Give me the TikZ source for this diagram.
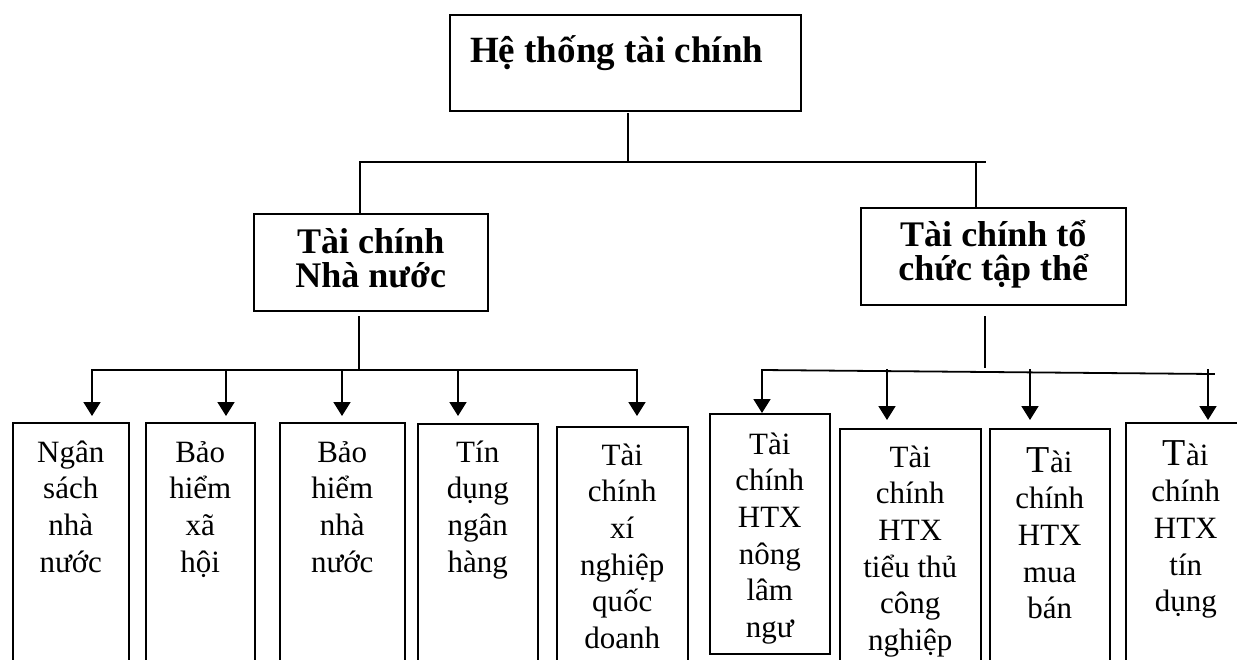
\documentclass[tikz,border=0pt]{standalone}
\usepackage{fontspec}
\setmainfont{Liberation Serif}
\usetikzlibrary{arrows.meta}
\newcommand\fstrut[1]{\rule{0pt}{#1pt}}
\newcommand\bigT{{\fontsize{38}{38}\selectfont T}}
\begin{document}
\begin{tikzpicture}[x=1pt,y=-1pt,
  box/.style={draw, line width=1.5pt, rectangle, inner sep=0pt, anchor=north west},
  conn/.style={line width=1.8pt, line cap=rect},
  arr/.style={line width=1.8pt, -{Triangle[width=17pt,length=14pt]}},
  head/.style={font=\bfseries\fontsize{36}{34}\selectfont, align=center, inner sep=0pt, anchor=north},
  leaf/.style={font=\fontsize{31}{36.6}\selectfont, align=center, inner sep=0pt, anchor=north}]
\useasboundingbox (0,0) rectangle (1237,659);
\clip (0,0) rectangle (1237,659);

% top
\node[box, minimum width=351pt, minimum height=96pt] (sys) at (449,14) {};
\node[anchor=base west, inner sep=0pt, font=\bfseries\fontsize{37}{40}\selectfont] (systext) at (470,62) {Hệ thống tài chính};

% middle
\node[box, minimum width=234pt, minimum height=97pt] (ml) at (253,213) {};
\node[head] (mltext) at (ml.north) {\fstrut{40}Tài chính\\Nhà nước};
\node[box, minimum width=265pt, minimum height=97pt] (mr) at (860,207) {};
\node[head] (mrtext) at (mr.north) {\fstrut{39}Tài chính tổ\\chức tập thể};

% leaves
\node[box, minimum width=116pt, minimum height=300pt] (b1) at (12,422) {};
\node[box, minimum width=109pt, minimum height=300pt] (b2) at (145,422) {};
\node[box, minimum width=125pt, minimum height=300pt] (b3) at (279,422) {};
\node[box, minimum width=120pt, minimum height=300pt] (b4) at (417,423) {};
\node[box, minimum width=131pt, minimum height=300pt] (b5) at (556,426) {};
\node[box, minimum width=120pt, minimum height=240pt] (b6) at (709,413) {};
\node[box, minimum width=141pt, minimum height=300pt] (b7) at (839,428) {};
\node[box, minimum width=120pt, minimum height=300pt] (b8) at (989,428) {};
\node[box, minimum width=120pt, minimum height=300pt] (b9) at (1125,422) {};

\node[leaf] (t1) at (b1.north) {\fstrut{40}Ngân\\sách\\nhà\\nước};
\node[leaf] (t2) at (b2.north) {\fstrut{40}Bảo\\hiểm\\xã\\hội};
\node[leaf] (t3) at (b3.north) {\fstrut{40}Bảo\\hiểm\\nhà\\nước};
\node[leaf] (t4) at (b4.north) {\fstrut{39}Tín\\dụng\\ngân\\hàng};
\node[leaf] (t5) at (b5.north) {\fstrut{39}Tài\\chính\\xí\\nghiệp\\quốc\\doanh};
\node[leaf] (t6) at (b6.north) {\fstrut{41}Tài\\chính\\HTX\\nông\\lâm\\ngư};
\node[leaf] (t7) at (b7.north) {\fstrut{39}Tài\\chính\\HTX\\tiểu thủ\\công\\nghiệp};
\node[leaf] (t8) at (b8.north) {\fstrut{44}\bigT ài\\chính\\HTX\\mua\\bán};
\node[leaf] (t9) at (b9.north) {\fstrut{43}\bigT ài\\chính\\HTX\\tín\\dụng};

% top connectors
\coordinate (c0) at (628,114);
\coordinate (c1) at (628,162);
\coordinate (hl) at (360,162);
\coordinate (hr) at (985,162);
\coordinate (dr) at (976,162);
\draw[conn] (c0) -- (c1);
\draw[conn] (hl) -- (hr);
\draw[conn] (hl) -- (hl |- ml.north);
\draw[conn] (dr) -- (dr |- mr.north);

% left group
\coordinate (m0) at (359,317);
\coordinate (m1) at (359,369);
\coordinate (s1) at (92,370);
\coordinate (s2) at (226,370);
\coordinate (s3) at (342,370);
\coordinate (s4) at (458,370);
\coordinate (s5) at (637,370);
\draw[conn] (m0) -- (m1);
\draw[conn] (s1) -- (s5);
\draw[arr, shorten >=6pt] (s1) -- (s1 |- b1.north);
\draw[arr, shorten >=6pt] (s2) -- (s2 |- b2.north);
\draw[arr, shorten >=6pt] (s3) -- (s3 |- b3.north);
\draw[arr, shorten >=7pt] (s4) -- (s4 |- b4.north);
\draw[arr, shorten >=10pt] (s5) -- (s5 |- b5.north);

% right group
\coordinate (n0) at (985,317);
\coordinate (n1) at (985,367);
\coordinate (r1) at (762,370);
\coordinate (r2) at (887,369);
\coordinate (r3) at (1030,369);
\coordinate (r4) at (1208,369);
\coordinate (re) at (1214,374);
\draw[conn] (n0) -- (n1);
\draw[conn] (r1) -- (re);
\draw[arr, shorten >=0pt] (r1) -- (r1 |- b6.north);
\draw[arr, shorten >=8pt] (r2) -- (r2 |- b7.north);
\draw[arr, shorten >=8pt] (r3) -- (r3 |- b8.north);
\draw[arr, shorten >=2pt] (r4) -- (r4 |- b9.north);
\end{tikzpicture}
\end{document}
